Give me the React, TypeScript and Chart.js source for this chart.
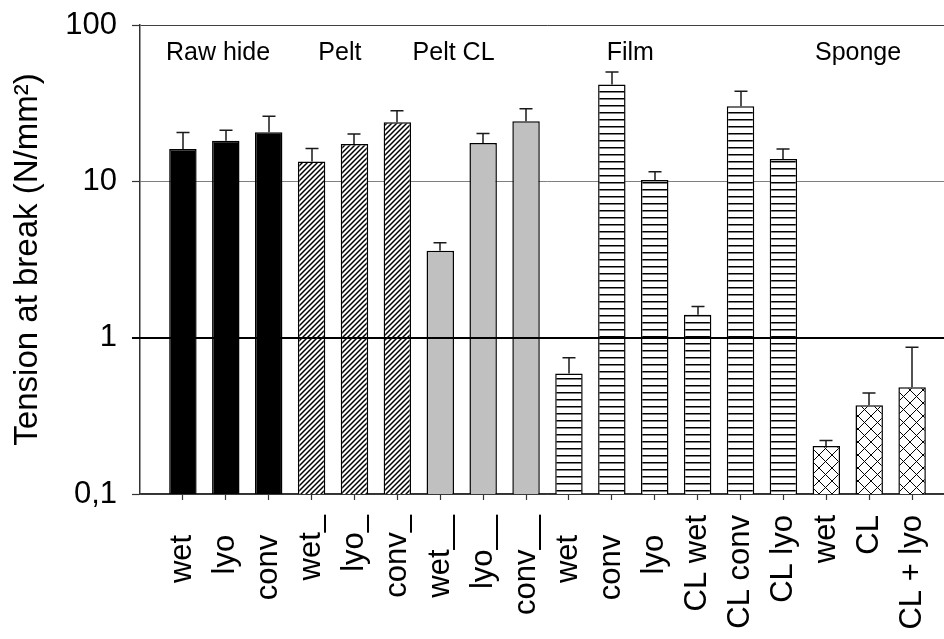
import React, { useEffect, useRef } from 'react';
import { Chart, registerables } from 'chart.js';

Chart.register(...registerables);

const FONT = "'Liberation Sans', Arial, Helvetica, sans-serif";

// categories (empty ones pad the axis at both ends)
const categories = ['', 'wet  \u200A', 'lyo  \u200A', 'conv  \u200A', 'wet_', 'lyo_', 'conv_', 'wet__', 'lyo__', 'conv__', 'wet  \u200A', 'conv  \u200A', 'lyo  \u200A', 'CL wet', 'CL conv', 'CL lyo', 'wet', 'CL', 'CL + lyo', ''];
const tensionAtBreak = [null, 16.1, 18.2, 20.6, 13.4, 17.3, 23.9, 3.6, 17.6, 24.2, 0.59, 41.6, 10.2, 1.4, 30.2, 13.9, 0.203, 0.369, 0.481, null];
const errorUpper = [null, 4.4, 3.0, 5.5, 2.8, 2.8, 4.4, 0.45, 2.6, 4.9, 0.155, 8.5, 1.3, 0.185, 7.5, 2.2, 0.017, 0.074, 0.386, null];
const barFill = ['', 'black', 'black', 'black', 'diagonal', 'diagonal', 'diagonal', 'gray', 'gray', 'gray', 'horizontal', 'horizontal', 'horizontal', 'horizontal', 'horizontal', 'horizontal', 'cross', 'cross', 'cross', ''];

const groupNames = ['Raw hide', 'Pelt', 'Pelt CL', 'Film', 'Sponge'];
const groupCenters = [1.82, 4.66, 7.31, 11.43, 16.74];

const yTickValues = [0.1, 1, 10, 100];
const yTickLabels = ['0,1', '1', '10', '100'];
const referenceLine = 1;

function makePattern(kind: string): CanvasPattern | string {
  if (kind === 'black') return '#000000';
  if (kind === 'gray') return '#c0c0c0';
  const c = document.createElement('canvas');
  const g = c.getContext('2d')!;
  if (kind === 'diagonal') {
    const s = 5;
    c.width = s; c.height = s;
    g.fillStyle = '#fff'; g.fillRect(0, 0, s, s);
    g.strokeStyle = '#000'; g.lineWidth = 1.5;
    g.beginPath();
    g.moveTo(0, s); g.lineTo(s, 0);
    g.moveTo(-1, 1); g.lineTo(1, -1);
    g.moveTo(s - 1, s + 1); g.lineTo(s + 1, s - 1);
    g.stroke();
  } else if (kind === 'horizontal') {
    c.width = 10; c.height = 7;
    g.fillStyle = '#fff'; g.fillRect(0, 0, 10, 7);
    g.fillStyle = '#000'; g.fillRect(0, 0, 10, 1.5);
  } else if (kind === 'cross') {
    const s = 13;
    c.width = s; c.height = s;
    g.fillStyle = '#fff'; g.fillRect(0, 0, s, s);
    g.strokeStyle = '#000'; g.lineWidth = 1;
    g.beginPath();
    g.moveTo(0, 0); g.lineTo(s, s);
    g.moveTo(0, s); g.lineTo(s, 0);
    g.stroke();
  }
  const p = g.createPattern(c, 'repeat');
  return p || '#fff';
}

const overlayPlugin = {
  id: 'overlay',
  afterDatasetsDraw(chart: any) {
    const { ctx, chartArea } = chart;
    const y = chart.scales.y;
    const x = chart.scales.x;
    const meta = chart.getDatasetMeta(0);
    ctx.save();
    // error bars (upper only)
    ctx.strokeStyle = '#1a1a1a';
    ctx.lineWidth = 1.5;
    meta.data.forEach((bar: any, i: number) => {
      const v = tensionAtBreak[i];
      const e = errorUpper[i];
      if (v == null || e == null) return;
      const yTop = y.getPixelForValue(v + e);
      const yBase = y.getPixelForValue(v);
      const bx = Math.round(bar.x);
      ctx.beginPath();
      ctx.moveTo(bx, yBase);
      ctx.lineTo(bx, yTop);
      ctx.moveTo(bx - 6.5, yTop);
      ctx.lineTo(bx + 6.5, yTop);
      ctx.stroke();
    });
    // reference line at 1
    const y1 = Math.round(y.getPixelForValue(referenceLine));
    ctx.strokeStyle = '#000';
    ctx.lineWidth = 2;
    ctx.beginPath();
    ctx.moveTo(chartArea.left - 8, y1);
    ctx.lineTo(chartArea.right, y1);
    ctx.stroke();
    // group labels
    ctx.fillStyle = '#000';
    ctx.font = `25px ${FONT}`;
    ctx.textAlign = 'center';
    ctx.textBaseline = 'alphabetic';
    groupNames.forEach((n, k) => {
      ctx.fillText(n, x.getPixelForValue(groupCenters[k]), 60);
    });
    ctx.restore();
  },
};

export default function App() {
  const ref = useRef<HTMLCanvasElement>(null);
  useEffect(() => {
    if (!ref.current) return;
    const fills = barFill.map((k) => (k ? makePattern(k) : 'rgba(0,0,0,0)'));
    const chart = new Chart(ref.current, {
      type: 'bar',
      data: {
        labels: categories,
        datasets: [
          {
            data: tensionAtBreak as any,
            backgroundColor: fills as any,
            borderColor: '#000',
            borderWidth: 1.5,
            categoryPercentage: 1,
            barPercentage: 0.64,
          },
        ],
      },
      options: {
        animation: false,
        responsive: true,
        maintainAspectRatio: false,
        layout: { padding: { top: 25, left: 0, right: 0, bottom: 0 } },
        plugins: { legend: { display: false }, tooltip: { enabled: false } },
        scales: {
          x: {
            type: 'category',
            offset: false,
            afterFit: (scale: any) => {
              scale.height = 145;
              scale.paddingLeft = 0;
              scale.paddingRight = 0;
            },
            grid: {
              offset: false,
              drawOnChartArea: false,
              drawTicks: true,
              tickLength: 6,
              tickWidth: 1.2,
              tickColor: (ctx: any) => (categories[ctx.index] ? '#333' : 'rgba(0,0,0,0)'),
            },
            border: { display: true, color: '#333', width: 1.5 },
            ticks: {
              autoSkip: false,
              maxRotation: 90,
              minRotation: 90,
              padding: 15,
              color: '#000',
              font: { size: 31, family: FONT },
            },
          },
          y: {
            type: 'logarithmic',
            min: 0.1,
            max: 100,
            afterBuildTicks: (scale: any) => {
              scale.ticks = yTickValues.map((value) => ({ value }));
            },
            afterFit: (scale: any) => {
              scale.width = 140;
              scale.paddingTop = 0;
              scale.paddingBottom = 0;
            },
            ticks: {
              autoSkip: false,
              padding: 15,
              color: '#000',
              font: { size: 31, family: FONT },
              callback: (value: any) => {
                const i = yTickValues.indexOf(Number(value));
                return i >= 0 ? yTickLabels[i] : '';
              },
            },
            grid: {
              color: (ctx: any) => {
                const v = ctx.tick && ctx.tick.value;
                if (v === 1) return '#000';
                if (v === 10) return '#808080';
                return '#404040';
              },
              lineWidth: (ctx: any) => (ctx.tick && ctx.tick.value === 1 ? 2 : 1),
              tickColor: (ctx: any) => (ctx.tick && ctx.tick.value === 1 ? '#000' : '#333'),
              tickWidth: (ctx: any) => (ctx.tick && ctx.tick.value === 1 ? 2 : 1.2),
              tickLength: 8,
            },
            border: { display: true, color: '#333', width: 1.5 },
            title: {
              display: true,
              text: 'Tension at break (N/mm²)',
              color: '#000',
              font: { size: 33, family: FONT },
              padding: { top: 8, bottom: 0 },
            },
          },
        },
      },
      plugins: [overlayPlugin],
    });
    return () => chart.destroy();
  }, []);

  return (
    <div style={{ position: 'fixed', left: 0, top: 0, width: 944, height: 639, overflow: 'hidden', background: '#fff' }}>
      <div style={{ position: 'relative', width: 955, height: 639 }}>
        <canvas ref={ref} />
      </div>
    </div>
  );
}
